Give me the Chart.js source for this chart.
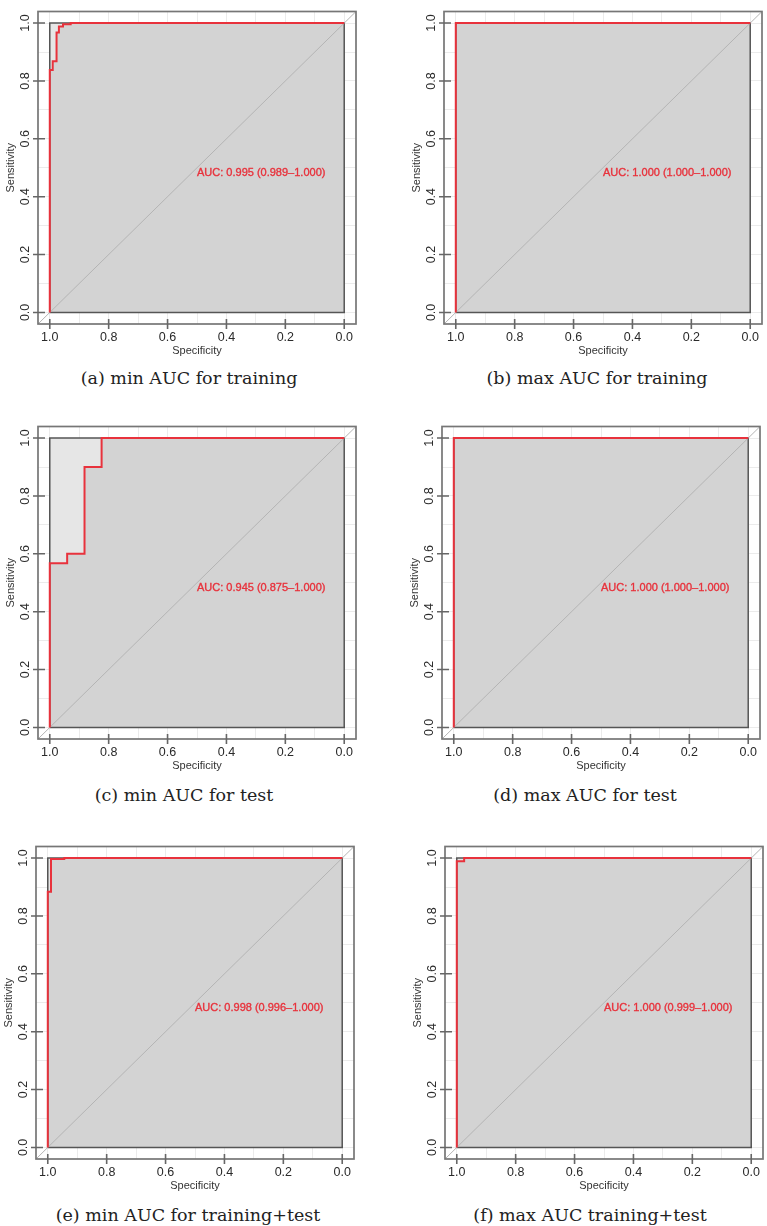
<!DOCTYPE html>
<html>
<head>
<meta charset="utf-8">
<script src="https://cdn.jsdelivr.net/npm/chart.js@4.4.1/dist/chart.umd.min.js"></script>
<style>
  html, body { margin: 0; padding: 0; background: #fff; }
  body { width: 767px; height: 1226px; position: relative; overflow: hidden; }
  .panel { position: absolute; }
  .cap {
    position: absolute; white-space: nowrap; transform: translate(-50%, -50%);
    font-family: 'DejaVu Serif', serif; font-size: 17.5px; color: #222;
  }
</style>
</head>
<body>
<script>
// ROC corner points (specificity on reversed x, sensitivity on y)
const specA = [1, 1, 0.99, 0.99, 0.977, 0.977, 0.969, 0.969, 0.955, 0.955, 0.929, 0.929, 0];
const sensA = [0, 0.838, 0.838, 0.868, 0.868, 0.967, 0.967, 0.988, 0.988, 0.996, 0.996, 1, 1];

const specB = [1, 1, 0];
const sensB = [0, 1, 1];

const specC = [1, 1, 0.941, 0.941, 0.882, 0.882, 0.824, 0.824, 0];
const sensC = [0, 0.567, 0.567, 0.6, 0.6, 0.9, 0.9, 1, 1];

const specD = [1, 1, 0];
const sensD = [0, 1, 1];

const specE = [1, 1, 0.989, 0.989, 0.944, 0.944, 0];
const sensE = [0, 0.884, 0.884, 0.997, 0.997, 1, 1];

const specF = [1, 1, 0.975, 0.975, 0];
const sensF = [0, 0.989, 0.989, 1, 1];

// perfect classifier square (max AUC polygon)
const maxSpec = [1, 1, 0, 0];
const maxSens = [0, 1, 1, 0];

const aucLabels = [
  'AUC: 0.995 (0.989\u20131.000)',
  'AUC: 1.000 (1.000\u20131.000)',
  'AUC: 0.945 (0.875\u20131.000)',
  'AUC: 1.000 (1.000\u20131.000)',
  'AUC: 0.998 (0.996\u20131.000)',
  'AUC: 1.000 (0.999\u20131.000)'
];
const captions = [
  '(a) min AUC for training',
  '(b) max AUC for training',
  '(c) min AUC for test',
  '(d) max AUC for test',
  '(e) min AUC for training+test',
  '(f) max AUC training+test'
];

const tickVals = [0, 0.2, 0.4, 0.6, 0.8, 1.0];
const gridVals = [0, 0.1, 0.2, 0.3, 0.4, 0.5, 0.6, 0.7, 0.8, 0.9, 1.0];

// R style axis range (4% extension)
const LO = -0.04, HI = 1.04;
const RED = '#e8323c';

// where each panel sits on the page
const layout = [
  { left: 0,   top: 0,   capX: 189, capY: 378 },
  { left: 406, top: 0,   capX: 597, capY: 378 },
  { left: 0,   top: 415, capX: 184, capY: 795 },
  { left: 404, top: 415, capX: 585, capY: 795 },
  { left: -2,  top: 835, capX: 188, capY: 1215 },
  { left: 407, top: 835, capX: 590, capY: 1215 }
];

const specs = [specA, specB, specC, specD, specE, specF];
const senss = [sensA, sensB, sensC, sensD, sensE, sensF];

const toPts = (xs, ys) => xs.map((x, i) => ({ x: x, y: ys[i] }));

// outer box, R-like tick marks and the AUC text
const rFrame = {
  id: 'rFrame',
  afterDatasetsDraw(chart, args, opts) {
    const { ctx, chartArea: a, scales: { x, y } } = chart;
    ctx.save();
    ctx.strokeStyle = '#767676';
    ctx.lineWidth = 1.7;
    ctx.strokeRect(a.left, a.top, a.right - a.left, a.bottom - a.top);

    ctx.strokeStyle = '#666';
    ctx.lineWidth = 1.6;
    ctx.beginPath();
    tickVals.forEach(v => {
      const px = x.getPixelForValue(v);
      ctx.moveTo(px, a.bottom - 5);
      ctx.lineTo(px, a.bottom + 5);
      const py = y.getPixelForValue(v);
      ctx.moveTo(a.left - 5, py);
      ctx.lineTo(a.left + 7, py);
    });
    ctx.stroke();

    const tx = x.getPixelForValue(0.5), ty = y.getPixelForValue(0.5);
    ctx.fillStyle = RED;
    ctx.strokeStyle = RED;
    ctx.lineWidth = 0.35;
    ctx.font = '11px "Liberation Sans", Arial, sans-serif';
    ctx.textAlign = 'left';
    ctx.textBaseline = 'top';
    ctx.fillText(opts.label, tx, ty);
    ctx.strokeText(opts.label, tx, ty);
    ctx.restore();
  }
};

function axis(title, isY) {
  return {
    type: 'linear',
    min: LO,
    max: HI,
    reverse: !isY,
    afterBuildTicks: s => { s.ticks = gridVals.map(v => ({ value: v })); },
    afterFit: s => { if (isY) s.width = 38; else s.height = 41; },
    grid: { color: '#ebebeb', lineWidth: 1, drawTicks: false },
    border: { display: false },
    ticks: {
      autoSkip: false,
      color: '#2a2a2a',
      font: { family: 'Liberation Sans', size: 12.5 },
      padding: isY ? 4 : 6,
      minRotation: isY ? 90 : 0,
      maxRotation: isY ? 90 : 0,
      crossAlign: isY ? 'center' : 'near',
      callback: v => tickVals.some(t => Math.abs(t - v) < 1e-9) ? v.toFixed(1) : ''
    },
    title: {
      display: true,
      text: title,
      color: '#333',
      font: { family: 'Liberation Sans', size: 11 },
      padding: isY ? { top: 4.5, bottom: 0 } : { top: 0, bottom: 7 }
    }
  };
}

layout.forEach((p, i) => {
  const cv = document.createElement('canvas');
  cv.className = 'panel';
  cv.width = 361;
  cv.height = 365;
  cv.style.left = p.left + 'px';
  cv.style.top = p.top + 'px';
  cv.style.width = '361px';
  cv.style.height = '365px';
  document.body.appendChild(cv);

  const cap = document.createElement('div');
  cap.className = 'cap';
  cap.style.left = p.capX + 'px';
  cap.style.top = p.capY + 'px';
  cap.textContent = captions[i];
  document.body.appendChild(cap);

  const roc = toPts(specs[i], senss[i]);
  const square = toPts(maxSpec, maxSens);

  new Chart(cv.getContext('2d'), {
    type: 'line',
    data: {
      datasets: [{
        label: 'ROC',
        data: roc,
        borderColor: RED,
        borderWidth: 2,
        pointRadius: 0,
        fill: false
      }, {
        label: 'chance',
        data: [{ x: HI, y: LO }, { x: LO, y: HI }],
        borderColor: '#b4b4b4',
        borderWidth: 1,
        pointRadius: 0,
        fill: false
      }, {
        label: 'max AUC border',
        data: square.concat([square[0]]),
        borderColor: '#555',
        borderWidth: 1.5,
        pointRadius: 0,
        fill: false
      }, {
        label: 'AUC area',
        data: roc,
        borderWidth: 0,
        borderColor: 'rgba(0,0,0,0)',
        backgroundColor: '#d3d3d3',
        pointRadius: 0,
        fill: { value: 0 }
      }, {
        label: 'max AUC area',
        data: square,
        borderWidth: 0,
        borderColor: 'rgba(0,0,0,0)',
        backgroundColor: '#e6e6e6',
        pointRadius: 0,
        fill: { value: 0 }
      }]
    },
    options: {
      responsive: false,
      animation: false,
      events: [],
      layout: { padding: { top: 6, right: 5, left: 0, bottom: 0 } },
      plugins: {
        legend: { display: false },
        tooltip: { enabled: false },
        rFrame: { label: aucLabels[i] }
      },
      scales: {
        x: axis('Specificity', false),
        y: axis('Sensitivity', true)
      }
    },
    plugins: [rFrame]
  });
});
</script>
</body>
</html>
